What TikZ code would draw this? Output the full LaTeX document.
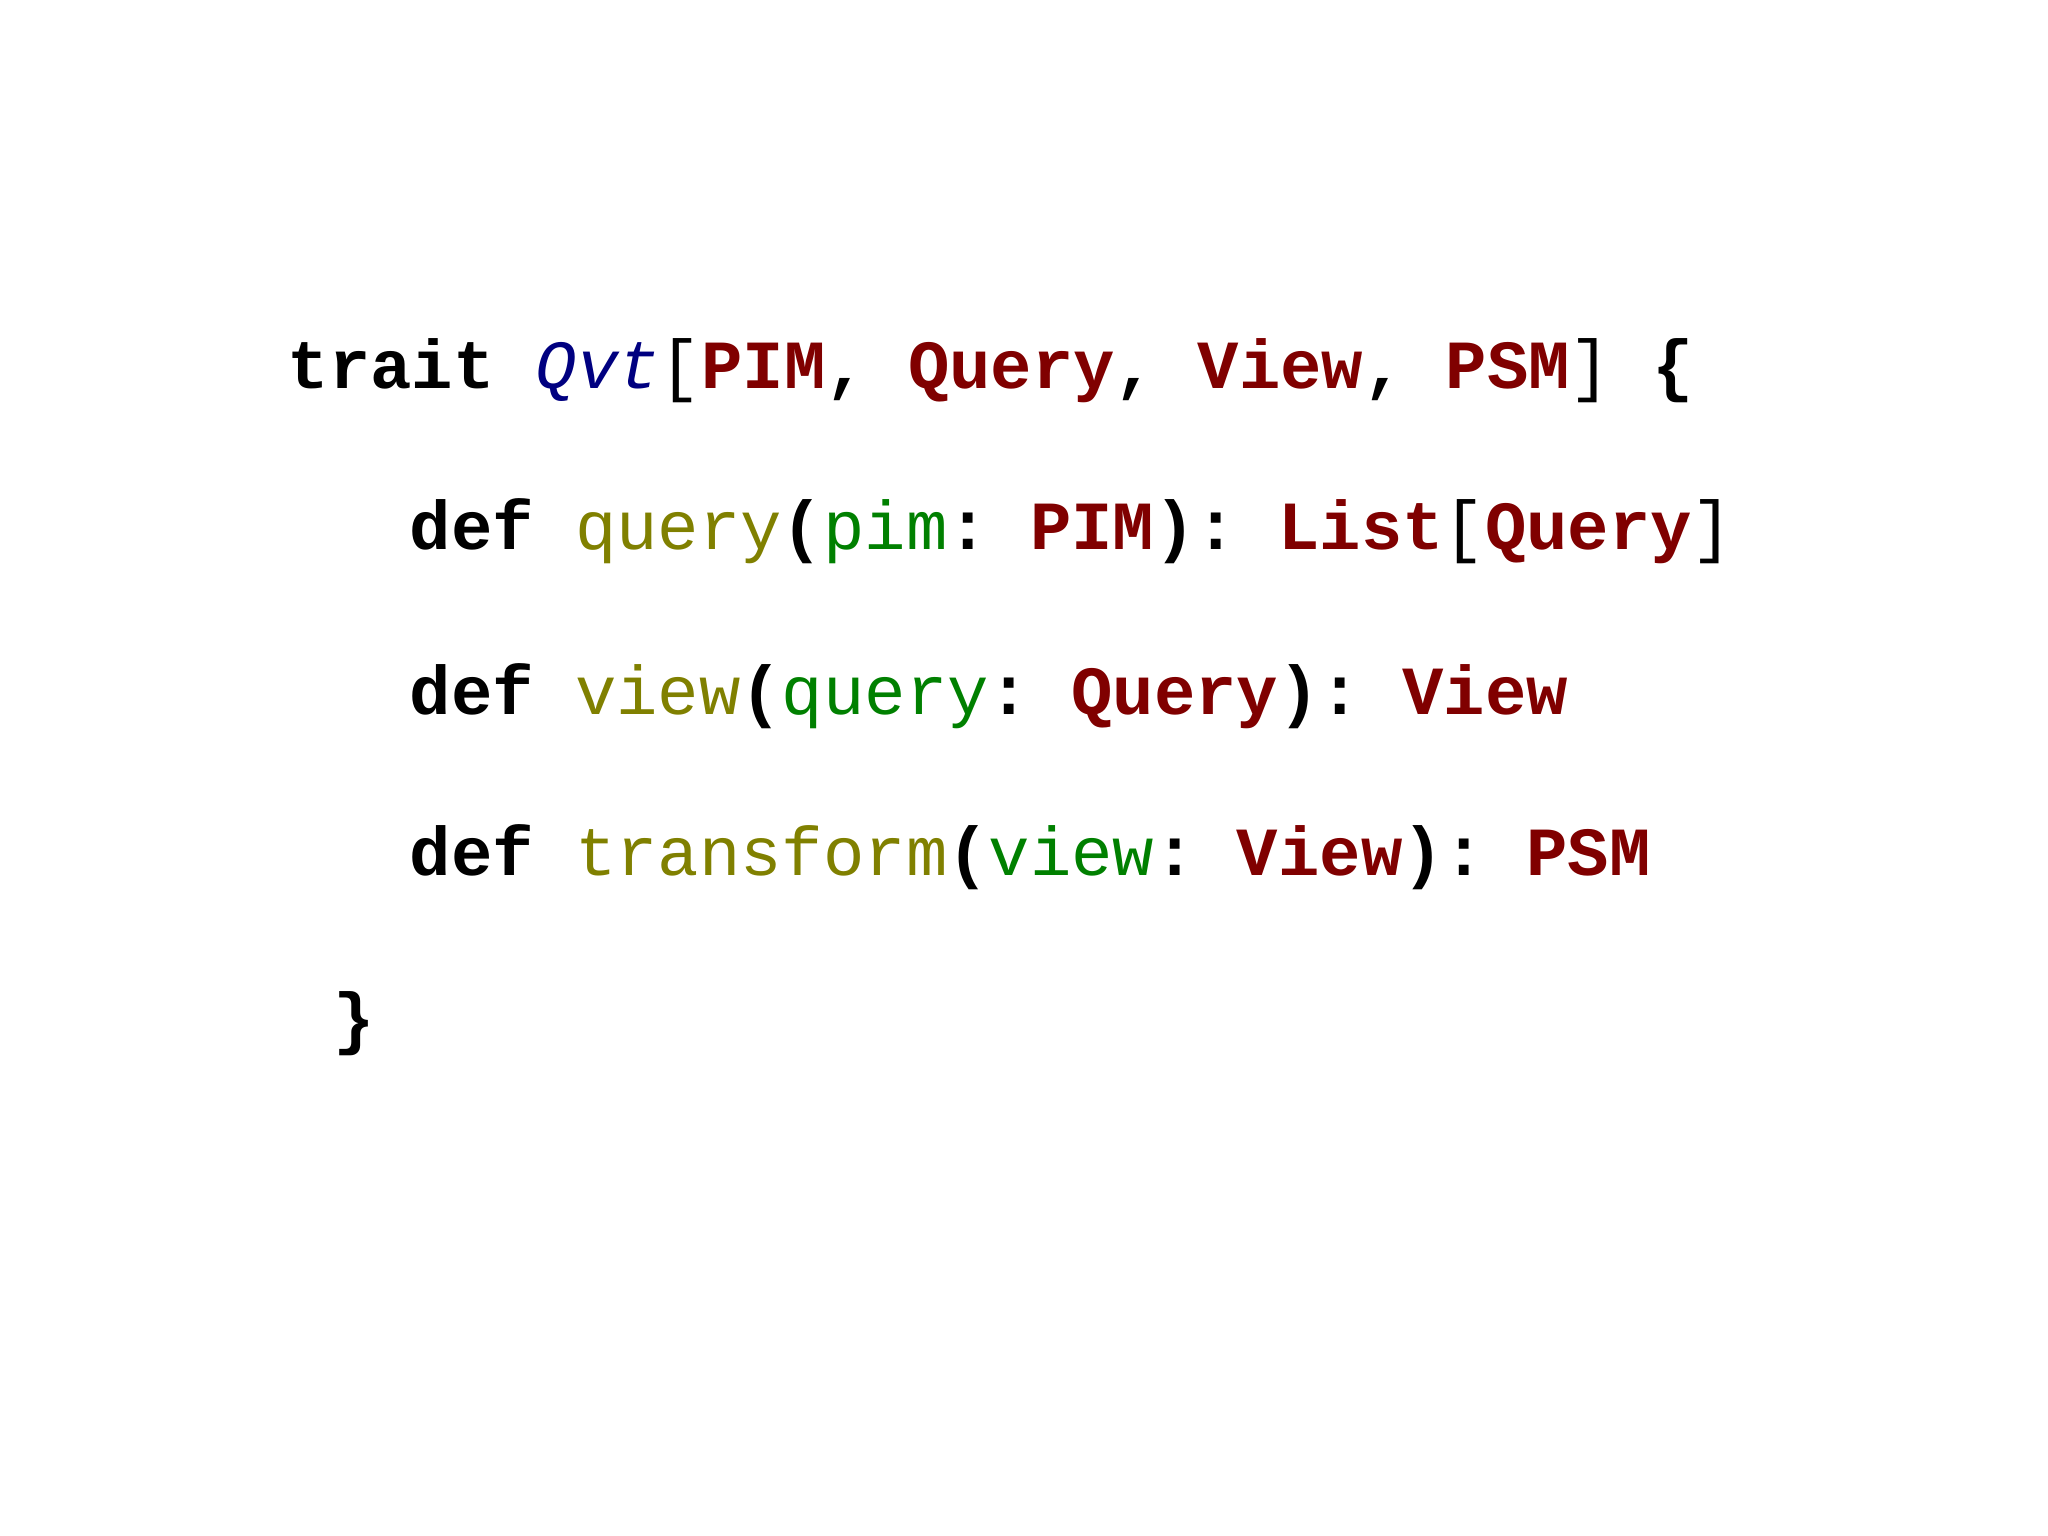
\documentclass[tikz,border=0pt]{standalone}
\usepackage{fontspec}
\setmonofont{Liberation Mono}
\usetikzlibrary{positioning}
\definecolor{typered}{HTML}{800000}
\definecolor{funolive}{HTML}{808000}
\definecolor{argreen}{HTML}{008000}
\definecolor{traitblue}{HTML}{000080}
\newcommand{\kw}[1]{\textbf{#1}}
\newcommand{\ty}[1]{\textcolor{typered}{\textbf{#1}}}
\newcommand{\fn}[1]{\textcolor{funolive}{#1}}
\newcommand{\ar}[1]{\textcolor{argreen}{#1}}

\begin{document}
\begin{tikzpicture}[x=0.01cm, y=-0.01cm,
    codeline/.style={anchor=base west, inner sep=0pt,
      font=\ttfamily\fontsize{19.6}{20}\selectfont}]
  \useasboundingbox (0,0) rectangle (2048,1536);

  % trait header
  \node[codeline] (head) at (287,388)
    {\kw{trait} \textcolor{traitblue}{\itshape Qvt}[\ty{PIM}\kw{,} \ty{Query}\kw{,} \ty{View}\kw{,} \ty{PSM}] \kw{\{}};

  % method signatures
  \node[codeline] (query) at (409,549)
    {\kw{def} \fn{query}\kw{(}\ar{pim}\kw{:} \ty{PIM}\kw{):} \ty{List}[\ty{Query}]};
  \node[codeline] (view) at (409,714)
    {\kw{def} \fn{view}\kw{(}\ar{query}\kw{:} \ty{Query}\kw{):} \ty{View}};
  \node[codeline] (transform) at (409,875)
    {\kw{def} \fn{transform}\kw{(}\ar{view}\kw{:} \ty{View}\kw{):} \ty{PSM}};

  % closing brace
  \node[codeline] (close) at (333,1041) {\kw{\}}};
\end{tikzpicture}
\end{document}
